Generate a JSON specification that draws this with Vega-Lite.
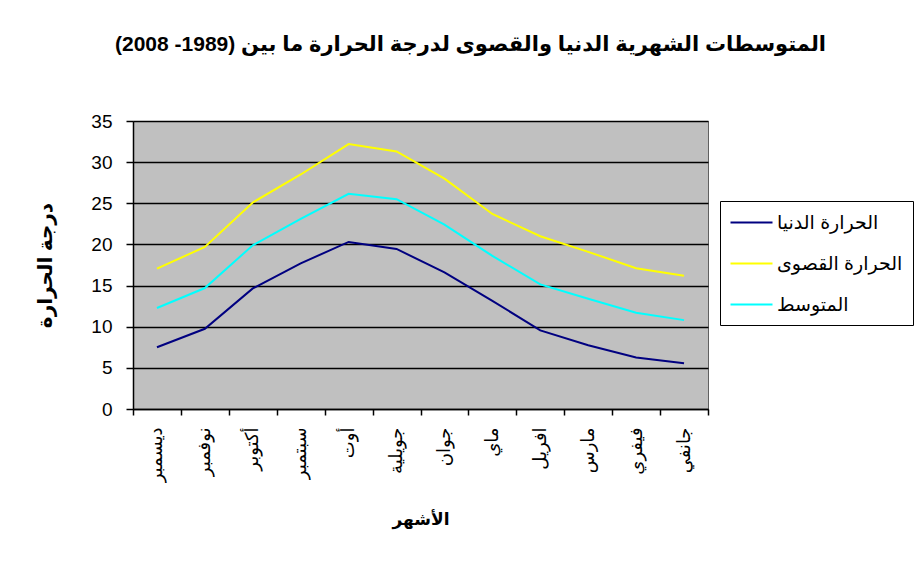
{
  "$schema": "https://vega.github.io/schema/vega-lite/v6.json",
  "width": 575,
  "height": 288,
  "autosize": {"type": "none"},
  "padding": {"left": 133, "top": 121, "right": 216, "bottom": 152},
  "background": "white",
  "title": {
    "text": "المتوسطات الشهرية الدنيا والقصوى لدرجة الحرارة ما بين (1989- 2008)‏",
    "font": "Liberation Sans, DejaVu Sans",
    "fontSize": 21,
    "fontWeight": "bold",
    "color": "black",
    "anchor": "middle",
    "frame": "group",
    "dx": 50,
    "offset": 57
  },
  "data": {
    "values": [
      {"month": "ديسمبر", "series": "الحرارة الدنيا", "value": 7.5},
      {"month": "نوفمبر", "series": "الحرارة الدنيا", "value": 9.75},
      {"month": "أكتوبر", "series": "الحرارة الدنيا", "value": 14.65},
      {"month": "سبتمبر", "series": "الحرارة الدنيا", "value": 17.7},
      {"month": "أوت", "series": "الحرارة الدنيا", "value": 20.3},
      {"month": "جويلية", "series": "الحرارة الدنيا", "value": 19.45},
      {"month": "جوان", "series": "الحرارة الدنيا", "value": 16.6},
      {"month": "ماي", "series": "الحرارة الدنيا", "value": 13.15},
      {"month": "افريل", "series": "الحرارة الدنيا", "value": 9.55},
      {"month": "مارس", "series": "الحرارة الدنيا", "value": 7.75},
      {"month": "فيفري", "series": "الحرارة الدنيا", "value": 6.25},
      {"month": "جانفي", "series": "الحرارة الدنيا", "value": 5.55},
      {"month": "ديسمبر", "series": "الحرارة القصوى", "value": 17.05},
      {"month": "نوفمبر", "series": "الحرارة القصوى", "value": 19.7},
      {"month": "أكتوبر", "series": "الحرارة القصوى", "value": 25.1},
      {"month": "سبتمبر", "series": "الحرارة القصوى", "value": 28.5},
      {"month": "أوت", "series": "الحرارة القصوى", "value": 32.2},
      {"month": "جويلية", "series": "الحرارة القصوى", "value": 31.3},
      {"month": "جوان", "series": "الحرارة القصوى", "value": 28.0},
      {"month": "ماي", "series": "الحرارة القصوى", "value": 23.7},
      {"month": "افريل", "series": "الحرارة القصوى", "value": 21.0},
      {"month": "مارس", "series": "الحرارة القصوى", "value": 19.1},
      {"month": "فيفري", "series": "الحرارة القصوى", "value": 17.1},
      {"month": "جانفي", "series": "الحرارة القصوى", "value": 16.2},
      {"month": "ديسمبر", "series": "المتوسط", "value": 12.27},
      {"month": "نوفمبر", "series": "المتوسط", "value": 14.7},
      {"month": "أكتوبر", "series": "المتوسط", "value": 19.9},
      {"month": "سبتمبر", "series": "المتوسط", "value": 23.1},
      {"month": "أوت", "series": "المتوسط", "value": 26.15},
      {"month": "جويلية", "series": "المتوسط", "value": 25.5},
      {"month": "جوان", "series": "المتوسط", "value": 22.4},
      {"month": "ماي", "series": "المتوسط", "value": 18.6},
      {"month": "افريل", "series": "المتوسط", "value": 15.15},
      {"month": "مارس", "series": "المتوسط", "value": 13.4},
      {"month": "فيفري", "series": "المتوسط", "value": 11.7},
      {"month": "جانفي", "series": "المتوسط", "value": 10.8}
    ]
  },
  "mark": {"type": "line", "strokeWidth": 2},
  "encoding": {
    "x": {
      "field": "month",
      "type": "ordinal",
      "sort": ["ديسمبر", "نوفمبر", "أكتوبر", "سبتمبر", "أوت", "جويلية", "جوان", "ماي", "افريل", "مارس", "فيفري", "جانفي"],
      "scale": {"type": "band", "paddingInner": 0, "paddingOuter": 0},
      "axis": {
        "title": "الأشهر",
        "labelAngle": -90,
        "tickBand": "extent",
        "labelFontSize": 18,
        "labelPadding": 12,
        "tickSize": 6,
        "titleFontSize": 17,
        "titlePadding": 30
      }
    },
    "y": {
      "field": "value",
      "type": "quantitative",
      "scale": {"domain": [0, 35], "nice": false},
      "axis": {
        "title": "درجة الحرارة",
        "values": [0, 5, 10, 15, 20, 25, 30, 35],
        "labelFontSize": 19,
        "labelPadding": 14,
        "tickSize": 7,
        "titleFontSize": 20,
        "titlePadding": 35,
        "grid": true
      }
    },
    "color": {
      "field": "series",
      "type": "nominal",
      "scale": {
        "domain": ["الحرارة الدنيا", "الحرارة القصوى", "المتوسط"],
        "range": ["#000080", "#FFFF00", "#00FFFF"]
      },
      "legend": {
        "title": null,
        "orient": "none",
        "legendX": 587,
        "legendY": 80,
        "strokeColor": "black",
        "fillColor": "white",
        "padding": 10,
        "symbolType": "M-2,0H2",
        "symbolSize": 441,
        "symbolStrokeWidth": 2,
        "symbolOffset": 10,
        "labelOffset": 14,
        "labelFontSize": 19,
        "rowPadding": 19
      }
    }
  },
  "config": {
    "font": "Liberation Sans, DejaVu Sans",
    "view": {"fill": "#C0C0C0", "stroke": "#606060", "strokeWidth": 1},
    "axis": {
      "domainColor": "black",
      "domainWidth": 1.5,
      "tickColor": "black",
      "tickWidth": 1.5,
      "gridColor": "black",
      "gridWidth": 1.5,
      "labelColor": "black",
      "titleColor": "black",
      "titleFontWeight": "bold",
      "labelFont": "Liberation Sans, DejaVu Sans",
      "titleFont": "Liberation Sans, DejaVu Sans"
    },
    "legend": {
      "labelColor": "black",
      "labelFont": "Liberation Sans, DejaVu Sans",
      "labelLimit": 300
    }
  }
}
